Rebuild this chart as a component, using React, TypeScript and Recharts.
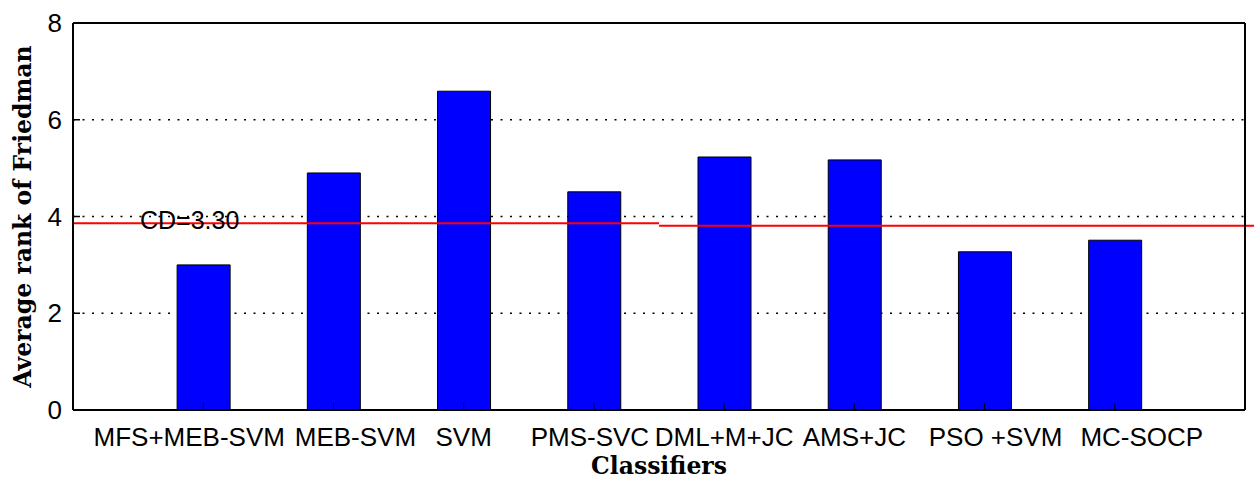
import React from 'react';
import {
  BarChart,
  Bar,
  XAxis,
  YAxis,
  CartesianGrid,
  ReferenceLine,
} from 'recharts';

const classifiers = [
  'MFS+MEB-SVM',
  'MEB-SVM',
  'SVM',
  'PMS-SVC',
  'DML+M+JC',
  'AMS+JC',
  'PSO +SVM',
  'MC-SOCP',
];
const avgRank = [3.0, 4.9, 6.59, 4.51, 5.23, 5.17, 3.27, 3.51];
const yTicks = [0, 2, 4, 6, 8];
const gridValues = [2, 4, 6];
const xTicks = [1, 2, 3, 4, 5, 6, 7, 8];
// critical difference line, drawn in two pieces like the original
const cdLeft = 3.86;
const cdRight = 3.81;

// the original tick labels are not quite centred under their bars
const labelShift = [-14, 22, 0, -4, 0, 0, 11, 27];

const sansFamily = 'Liberation Sans, Arial, sans-serif';
const tickFont = { fontSize: 26, fill: '#000', fontFamily: sansFamily };
const labelFont = { fontSize: 23.5, fill: '#000', fontFamily: 'DejaVu Serif, serif', fontWeight: 'bold' as const };

function ClassTick(props: any) {
  const { x, y, payload } = props;
  const i = payload.value - 1;
  return (
    <text
      x={x + (labelShift[i] || 0)}
      y={y}
      dy="0.71em"
      textAnchor="middle"
      fontSize={26}
      fontFamily={sansFamily}
      fill="#000"
    >
      {classifiers[i]}
    </text>
  );
}

export default function App() {
  const data = classifiers.map((name, i) => ({ pos: i + 1, name, rank: avgRank[i] }));

  return (
    <div style={{ position: 'absolute', left: 0, top: 0, width: 1254, height: 480, background: '#fff' }}>
      <BarChart
        width={1254}
        height={480}
        data={data}
        margin={{ top: 0, right: 0, left: 0, bottom: 0 }}
        barSize={53}
      >
        <CartesianGrid
          vertical={false}
          horizontalValues={gridValues}
          stroke="#000"
          strokeWidth={1.5}
          strokeDasharray="2 7.5"
        />

        <XAxis
          dataKey="pos"
          type="number"
          domain={[0, 9]}
          ticks={xTicks}
          height={70}
          tickSize={-7}
          tickMargin={25}
          axisLine={{ stroke: '#000', strokeWidth: 2 }}
          tickLine={{ stroke: '#000' }}
          tick={<ClassTick />}
          interval={0}
          allowDecimals={false}
          label={{ value: 'Classifiers', position: 'insideBottom', offset: 6, ...labelFont }}
        />
        <XAxis
          xAxisId="top"
          orientation="top"
          dataKey="pos"
          type="number"
          domain={[0, 9]}
          ticks={xTicks}
          height={23}
          tickSize={-7}
          tick={false}
          axisLine={{ stroke: '#000', strokeWidth: 2 }}
          tickLine={{ stroke: '#000', strokeWidth: 1.5 }}
        />

        <YAxis
          domain={[0, 8]}
          ticks={yTicks}
          width={73}
          tickSize={-7}
          tickMargin={18}
          axisLine={{ stroke: '#000', strokeWidth: 2 }}
          tickLine={{ stroke: '#000', strokeWidth: 1.5 }}
          tick={tickFont}
          label={{ value: 'Average rank of Friedman', angle: -90, position: 'center', dx: -14, ...labelFont }}
        />
        <YAxis
          yAxisId="right"
          orientation="right"
          domain={[0, 8]}
          ticks={yTicks}
          width={9}
          tickSize={-7}
          tick={false}
          axisLine={{ stroke: '#000', strokeWidth: 2 }}
          tickLine={{ stroke: '#000', strokeWidth: 1.5 }}
        />

        <Bar
          dataKey="rank"
          fill="#0000ff"
          stroke="#000"
          strokeWidth={1}
          isAnimationActive={false}
        />

        <ReferenceLine
          segment={[{ x: 0, y: cdLeft }, { x: 4.5, y: cdLeft }]}
          stroke="#ff0000"
          strokeWidth={2}
          ifOverflow="visible"
          label={{
            value: 'CD=3.30',
            position: 'insideLeft',
            offset: 67,
            dy: -3,
            fontSize: 25,
            fill: '#000',
            fontFamily: sansFamily,
          }}
        />
        <ReferenceLine
          segment={[{ x: 4.5, y: cdRight }, { x: 9.07, y: cdRight }]}
          stroke="#ff0000"
          strokeWidth={2}
          ifOverflow="visible"
        />
      </BarChart>
    </div>
  );
}
